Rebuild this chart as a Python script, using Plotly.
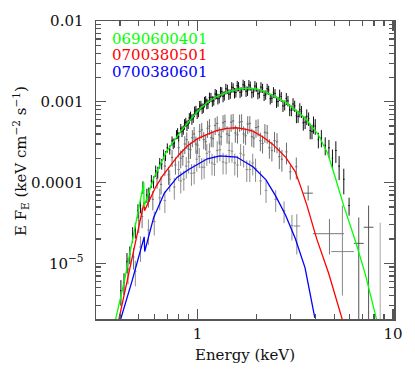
import numpy as np
import plotly.graph_objects as go

# ---------------- model curves ----------------
G_MOD_E = [0.380, 0.422, 0.473, 0.5305, 0.532, 0.540, 0.596, 0.692, 0.820, 0.89, 0.955, 1.03, 1.122, 1.26, 1.413,
           1.6, 1.778, 2.0, 2.239, 2.818, 3.548, 4.136, 4.64, 5.07, 5.62, 6.44, 7.22, 8.25]
G_MOD_F = [2.0e-6, 6.1e-6, 2.44e-5, 1.0e-4, 5.0e-5, 5.64e-5, 1.13e-4, 2.40e-4, 4.3e-4, 5.5e-4, 6.7e-4, 8.2e-4, 9.8e-4, 1.17e-3, 1.32e-3,
           1.43e-3, 1.476e-3, 1.44e-3, 1.32e-3, 9.9e-4, 6.3e-4, 3.96e-4, 2.27e-4, 1.15e-4, 5.0e-5, 1.85e-5, 7.3e-6, 2.0e-6]

R_MOD_E = [0.395, 0.43, 0.47, 0.51, 0.533, 0.535, 0.57, 0.61, 0.66, 0.73, 0.8, 0.89, 1.0, 1.12, 1.25, 1.41,
           1.58, 1.75, 1.92, 2.15, 2.42, 2.82, 3.16, 3.39, 3.63, 4.07, 4.68, 5.51]
R_MOD_F = [2.0e-6, 5.2e-6, 1.42e-5, 3.56e-5, 5.8e-5, 4.5e-5, 6.3e-5, 8.8e-5, 1.2e-4, 1.62e-4, 2.2e-4, 2.86e-4, 3.5e-4, 3.96e-4, 4.4e-4, 4.68e-4,
           4.77e-4, 4.6e-4, 4.34e-4, 3.7e-4, 2.99e-4, 2.07e-4, 1.37e-4, 8.55e-5, 5.19e-5, 2.01e-5, 7.6e-6, 2.0e-6]

B_MOD_E = [0.403, 0.462, 0.533, 0.536, 0.596, 0.676, 0.785, 0.891, 1.122, 1.303, 1.585, 1.92, 2.239, 2.512,
           2.818, 3.162, 3.548, 3.981]
B_MOD_F = [2.0e-6, 6.08e-6, 2.13e-5, 1.40e-5, 3.71e-5, 7.44e-5, 1.16e-4, 1.43e-4, 1.97e-4, 2.14e-4, 2.07e-4, 1.57e-4, 1.08e-4, 6.79e-5,
           3.98e-5, 2.03e-5, 8.8e-6, 2.11e-6]

# ---------------- data points ----------------
G_E = [0.405, 0.42, 0.435, 0.45, 0.465, 0.48, 0.495, 0.51, 0.525, 0.55, 0.565, 0.58, 0.595, 0.61, 0.625, 0.64,
       0.655, 0.67, 0.685, 0.70, 0.72, 0.74, 0.76, 0.78, 0.80, 0.82, 0.845, 0.87, 0.895, 0.92, 0.95, 0.98,
       1.01, 1.04, 1.07, 1.10, 1.13, 1.17, 1.21, 1.25, 1.29, 1.33, 1.37, 1.42, 1.47, 1.52, 1.57, 1.62,
       1.68, 1.74, 1.80, 1.86, 1.93, 2.00, 2.07, 2.15, 2.23, 2.31, 2.40, 2.49, 2.58, 2.68, 2.79, 2.90,
       3.02, 3.14, 3.27, 3.40, 3.55, 3.70, 3.85, 4.00, 4.15, 4.3, 4.5, 4.7, 4.9, 5.1, 5.3, 5.6, 5.96,
       0.75, 0.79, 0.832, 0.857, 0.882, 0.907, 0.935, 0.965, 0.995, 1.025, 1.055, 1.085, 1.115, 1.15, 1.19,
       1.23, 1.27, 1.31, 1.35, 1.395, 1.445, 1.495, 1.545, 1.595, 1.65, 1.71, 1.77, 1.83, 1.895, 1.965,
       2.035, 2.11, 2.19, 2.27, 2.355, 2.445, 2.535, 2.63, 2.735, 2.845, 2.96, 3.08, 3.205, 3.335, 3.475,
       3.62, 3.77, 3.92]
G_F = [4.6e-6, 5.8e-6, 1.05e-5, 1.3e-5, 2.3e-5, 2.6e-5, 4.5e-5, 5.2e-5, 8.8e-5, 7.0e-5, 7.2e-5, 1.05e-4, 1.02e-4, 1.40e-4, 1.35e-4, 1.75e-4,
       1.70e-4, 2.25e-4, 2.15e-4, 2.70e-4, 2.55e-4, 3.30e-4, 3.10e-4, 3.95e-4, 3.70e-4, 4.70e-4, 4.50e-4, 5.60e-4, 5.30e-4, 6.70e-4, 6.30e-4, 7.90e-4,
       7.40e-4, 9.10e-4, 8.40e-4, 1.04e-3, 9.40e-4, 1.14e-3, 1.03e-3, 1.24e-3, 1.10e-3, 1.34e-3, 1.19e-3, 1.44e-3, 1.25e-3, 1.50e-3, 1.30e-3, 1.55e-3,
       1.33e-3, 1.60e-3, 1.36e-3, 1.58e-3, 1.31e-3, 1.53e-3, 1.27e-3, 1.48e-3, 1.22e-3, 1.40e-3, 1.11e-3, 1.27e-3, 1.01e-3, 1.16e-3, 9.1e-4, 1.03e-3,
       7.8e-4, 8.9e-4, 6.6e-4, 7.6e-4, 5.6e-4, 6.2e-4, 4.3e-4, 5.0e-4, 3.4e-4, 3.6e-4, 2.9e-4, 2.7e-4, 2.0e-4, 2.5e-4, 1.6e-4, 1.1e-4, 5.2e-5,
       3.05e-4, 4.1e-4, 4.3e-4, 5.3e-4, 5.1e-4, 6.3e-4, 6.1e-4, 7.6e-4, 7.2e-4, 8.9e-4, 8.3e-4, 1.0e-3, 9.5e-4, 1.13e-3, 1.02e-3,
       1.25e-3, 1.09e-3, 1.33e-3, 1.16e-3, 1.45e-3, 1.24e-3, 1.52e-3, 1.29e-3, 1.58e-3, 1.31e-3, 1.63e-3, 1.35e-3, 1.62e-3, 1.30e-3, 1.57e-3,
       1.26e-3, 1.52e-3, 1.20e-3, 1.45e-3, 1.09e-3, 1.32e-3, 1.0e-3, 1.22e-3, 8.9e-4, 1.10e-3, 8.0e-4, 9.4e-4, 6.7e-4, 8.0e-4, 5.5e-4,
       6.6e-4, 4.4e-4, 5.3e-4]
G_REL = [0.35, 0.3, 0.28, 0.25, 0.22, 0.22, 0.2, 0.2, 0.18, 0.2, 0.2, 0.18, 0.17, 0.16, 0.16, 0.15,
         0.15, 0.14, 0.14, 0.13, 0.13, 0.13, 0.13, 0.13, 0.13, 0.13, 0.13, 0.13, 0.13, 0.13, 0.13, 0.13,
         0.13, 0.13, 0.13, 0.13, 0.13, 0.13, 0.13, 0.13, 0.13, 0.13, 0.13, 0.13, 0.13, 0.13, 0.13, 0.13,
         0.13, 0.13, 0.13, 0.13, 0.13, 0.13, 0.13, 0.13, 0.13, 0.13, 0.13, 0.13, 0.14, 0.14, 0.14, 0.15,
         0.15, 0.16, 0.17, 0.17, 0.18, 0.19, 0.2, 0.22, 0.22, 0.24, 0.25, 0.25, 0.28, 0.3, 0.33, 0.35, 0.25,
         0.15, 0.15, 0.15, 0.15, 0.15, 0.15, 0.15, 0.15, 0.15, 0.15, 0.15, 0.15, 0.15, 0.15, 0.15,
         0.15, 0.15, 0.15, 0.15, 0.15, 0.15, 0.15, 0.15, 0.15, 0.15, 0.15, 0.15, 0.15, 0.15, 0.15,
         0.15, 0.15, 0.15, 0.15, 0.15, 0.15, 0.16, 0.16, 0.16, 0.17, 0.17, 0.18, 0.19, 0.2, 0.2,
         0.22, 0.22, 0.24]

R_E = [0.44, 0.47, 0.50, 0.52, 0.56, 0.59, 0.62, 0.65, 0.68, 0.71, 0.74, 0.77, 0.80, 0.84, 0.88, 0.92,
       0.96, 1.00, 1.05, 1.10, 1.15, 1.20, 1.26, 1.32, 1.38, 1.45, 1.52, 1.60, 1.68, 1.76, 1.85, 1.94,
       2.04, 2.15, 2.27, 2.40, 2.55, 2.70, 2.85, 2.98, 3.2,
       0.82, 0.86, 0.90, 0.94, 0.98, 1.025, 1.075, 1.125, 1.175, 1.23, 1.29, 1.35, 1.415, 1.485, 1.56,
       1.64, 1.72, 1.805, 1.895, 1.99, 2.095, 2.21, 2.33, 2.475, 2.62]
R_F = [8.5e-6, 1.2e-5, 3.4e-5, 3.8e-5, 6.8e-5, 6.2e-5, 1.12e-4, 9.5e-5, 1.6e-4, 1.25e-4, 2.05e-4, 1.65e-4, 2.7e-4, 2.1e-4, 3.4e-4, 2.55e-4,
       4.0e-4, 2.9e-4, 4.5e-4, 3.2e-4, 5.0e-4, 3.5e-4, 5.4e-4, 3.7e-4, 5.7e-4, 3.85e-4, 5.8e-4, 3.9e-4, 5.7e-4, 3.8e-4, 5.4e-4, 3.55e-4,
       4.9e-4, 3.05e-4, 4.1e-4, 2.5e-4, 3.2e-4, 1.95e-4, 2.4e-4, 1.36e-4, 1.57e-4,
       2.0e-4, 3.0e-4, 2.6e-4, 3.6e-4, 3.0e-4, 4.3e-4, 3.4e-4, 4.7e-4, 3.6e-4, 5.1e-4, 3.9e-4, 5.5e-4, 4.0e-4, 5.6e-4, 4.1e-4,
       5.6e-4, 4.0e-4, 5.3e-4, 3.7e-4, 4.8e-4, 3.3e-4, 4.2e-4, 2.7e-4, 3.3e-4, 2.1e-4]
R_REL = [0.35, 0.3, 0.3, 0.28, 0.28, 0.27, 0.25, 0.25, 0.25, 0.25, 0.24, 0.24, 0.24, 0.23, 0.23, 0.23,
         0.22, 0.22, 0.22, 0.22, 0.22, 0.22, 0.22, 0.22, 0.22, 0.22, 0.22, 0.22, 0.23, 0.23, 0.23, 0.24,
         0.24, 0.25, 0.26, 0.27, 0.28, 0.3, 0.3, 0.2, 0.3,
         0.25, 0.25, 0.25, 0.24, 0.24, 0.24, 0.24, 0.24, 0.24, 0.24, 0.24, 0.24, 0.24, 0.24, 0.24,
         0.24, 0.24, 0.25, 0.25, 0.25, 0.26, 0.26, 0.27, 0.28, 0.3]

B_E = [0.48, 0.51, 0.56, 0.60, 0.64, 0.68, 0.72, 0.76, 0.80, 0.85, 0.90, 0.96, 1.02, 1.08, 1.15, 1.22,
       1.30, 1.40, 1.50, 1.60, 1.72, 1.85, 1.98, 2.1, 2.24, 2.51, 2.77, 3.04,
       0.82, 0.875, 0.93, 0.99, 1.05, 1.115, 1.185, 1.26, 1.35, 1.45, 1.55, 1.66, 1.785, 1.915]
B_F = [8.0e-6, 1.6e-5, 2.6e-5, 3.3e-5, 6.5e-5, 6.0e-5, 1.1e-4, 8.8e-5, 1.45e-4, 1.1e-4, 1.8e-4, 1.32e-4, 2.1e-4, 1.55e-4, 2.4e-4, 1.68e-4,
       2.55e-4, 1.75e-4, 2.45e-4, 1.65e-4, 2.2e-4, 1.45e-4, 1.5e-4, 1.05e-4, 8.0e-5, 6.2e-5, 4.5e-5, 2.95e-5,
       1.05e-4, 1.6e-4, 1.3e-4, 1.95e-4, 1.55e-4, 2.3e-4, 1.75e-4, 2.5e-4, 1.8e-4, 2.5e-4, 1.75e-4, 2.3e-4, 1.45e-4, 1.75e-4]
B_REL = [0.35, 0.35, 0.35, 0.33, 0.3, 0.3, 0.3, 0.3, 0.28, 0.28, 0.28, 0.28, 0.28, 0.28, 0.28, 0.28,
         0.28, 0.28, 0.28, 0.3, 0.3, 0.3, 0.32, 0.33, 0.3, 0.3, 0.3, 0.35,
         0.3, 0.3, 0.3, 0.3, 0.3, 0.3, 0.3, 0.3, 0.3, 0.3, 0.3, 0.3, 0.3, 0.3]

# wide high-energy bins: centre, bin edges, flux, flux bounds
W_E = [3.68, 4.73, 5.51, 6.68, 7.5, 8.6, 3.22]
W_ELO = [3.47, 3.89, 4.83, 6.31, 7.08, 8.58, 3.10]
W_EHI = [3.89, 5.62, 6.31, 7.08, 7.94, 8.62, 3.35]
W_F = [7.4e-5, 2.33e-5, 1.4e-5, 1.77e-5, 2.8e-5, 3.0e-6, 2.9e-5]
W_FLO = [6.0e-5, 1.29e-5, 4.0e-6, 1e-8, 1e-8, 1e-8, 1.29e-5]
W_FHI = [9.2e-5, 3.54e-5, 5.2e-5, 3.7e-5, 5.2e-5, 3.2e-5, 4.07e-5]
W_COL = ["#666666", "#777777", "#888888", "#555555", "#555555", "#aaaaaa", "#888888"]

LABELS = ["0690600401", "0700380501", "0700380601"]
COLORS = ["#00ff00", "#ff0000", "#0000ff"]

fig = go.Figure()


def data_trace(E, F, rel, color, xfrac):
    E = np.array(E, float)
    F = np.array(F, float)
    rel = np.array(rel, float)
    return go.Scatter(
        x=E, y=F, mode="markers", marker=dict(size=1, color=color),
        error_y=dict(type="data", array=F * rel, arrayminus=F * rel, color=color, thickness=1, width=0),
        error_x=dict(type="data", array=E * xfrac, arrayminus=E * xfrac, color=color, thickness=1, width=0),
        showlegend=False, hoverinfo="skip")


fig.add_trace(data_trace(B_E, B_F, B_REL, "#8c8c8c", 0.015))
fig.add_trace(data_trace(R_E, R_F, R_REL, "#6e6e6e", 0.013))
fig.add_trace(data_trace(G_E, G_F, G_REL, "#111111", 0.008))

for i in range(len(W_E)):
    e, f = W_E[i], W_F[i]
    fig.add_trace(go.Scatter(
        x=[e], y=[f], mode="markers", marker=dict(size=1, color=W_COL[i]),
        error_y=dict(type="data", array=[W_FHI[i] - f], arrayminus=[f - W_FLO[i]],
                     color=W_COL[i], thickness=1, width=0),
        error_x=dict(type="data", array=[W_EHI[i] - e], arrayminus=[e - W_ELO[i]],
                     color=W_COL[i], thickness=1, width=0),
        showlegend=False, hoverinfo="skip"))

for xs, ys, c in [(B_MOD_E, B_MOD_F, COLORS[2]), (R_MOD_E, R_MOD_F, COLORS[1]), (G_MOD_E, G_MOD_F, COLORS[0])]:
    fig.add_trace(go.Scatter(x=xs, y=ys, mode="lines", line=dict(color=c, width=1.3),
                             showlegend=False, hoverinfo="skip"))

FONT = "DejaVu Serif"
AX = "#555555"
x_minor = [0.4, 0.5, 0.6, 0.7, 0.8, 0.9, 2, 3, 4, 5, 6, 7, 8, 9]
y_minor = [m * 10.0 ** p for p in (-6, -5, -4, -3) for m in range(2, 10) if m * 10.0 ** p >= 2.1e-6]

fig.update_xaxes(type="log", range=[np.log10(0.302), np.log10(10.12)],
                 tickvals=[1, 10], ticktext=["1", "10"],
                 ticks="inside", ticklen=10, tickwidth=1.3, tickcolor=AX,
                 minor=dict(ticks="inside", ticklen=5, tickwidth=1.3, tickcolor=AX,
                            tickmode="array", tickvals=x_minor, showgrid=False),
                 showline=True, linecolor=AX, linewidth=1.5, mirror="allticks",
                 showgrid=False, zeroline=False, ticklabeloverflow="allow",
                 tickfont=dict(family=FONT, size=15, color="#111111"))
fig.update_yaxes(type="log", range=[np.log10(2.05e-6), -2.0],
                 tickvals=[1e-5, 1e-4, 1e-3, 1e-2],
                 ticktext=["10<sup>\u22125</sup>", "0.0001", "0.001", "0.01"],
                 ticks="inside", ticklen=10, tickwidth=1.3, tickcolor=AX,
                 minor=dict(ticks="inside", ticklen=5, tickwidth=1.3, tickcolor=AX,
                            tickmode="array", tickvals=y_minor, showgrid=False),
                 showline=True, linecolor=AX, linewidth=1.5, mirror="allticks",
                 showgrid=False, zeroline=False, ticklabelstandoff=8, ticklabeloverflow="allow",
                 tickfont=dict(family=FONT, size=15, color="#111111"))

ann = []
for i, (lab, c) in enumerate(zip(LABELS, COLORS)):
    ann.append(dict(text=lab, x=0.046, y=0.94 - 0.0557 * i, xref="paper", yref="paper",
                    xanchor="left", yanchor="middle", showarrow=False, height=14,
                    font=dict(family=FONT, size=15, color=c)))
ann.append(dict(text="Energy (keV)", x=0.5, y=-0.12, xref="paper", yref="paper",
                xanchor="center", yanchor="middle", showarrow=False,
                font=dict(family=FONT, size=15, color="#111111")))
ann.append(dict(text="E F<sub>E</sub> (keV cm<sup>\u22122</sup> s<sup>\u22121</sup>)",
                x=-0.255, y=0.53, xref="paper", yref="paper", textangle=-90,
                xanchor="center", yanchor="middle", showarrow=False,
                font=dict(family=FONT, size=15, color="#111111")))

fig.update_layout(width=415, height=376, margin=dict(l=96, r=14, t=14, b=57),
                  paper_bgcolor="white", plot_bgcolor="white", annotations=ann)

# remove the default page margin so the figure sits at the window's top-left corner
fig.write_html("out.html", config={"displayModeBar": False, "staticPlot": True},
               post_script="document.body.style.margin='0px';document.body.style.overflow='hidden';")
